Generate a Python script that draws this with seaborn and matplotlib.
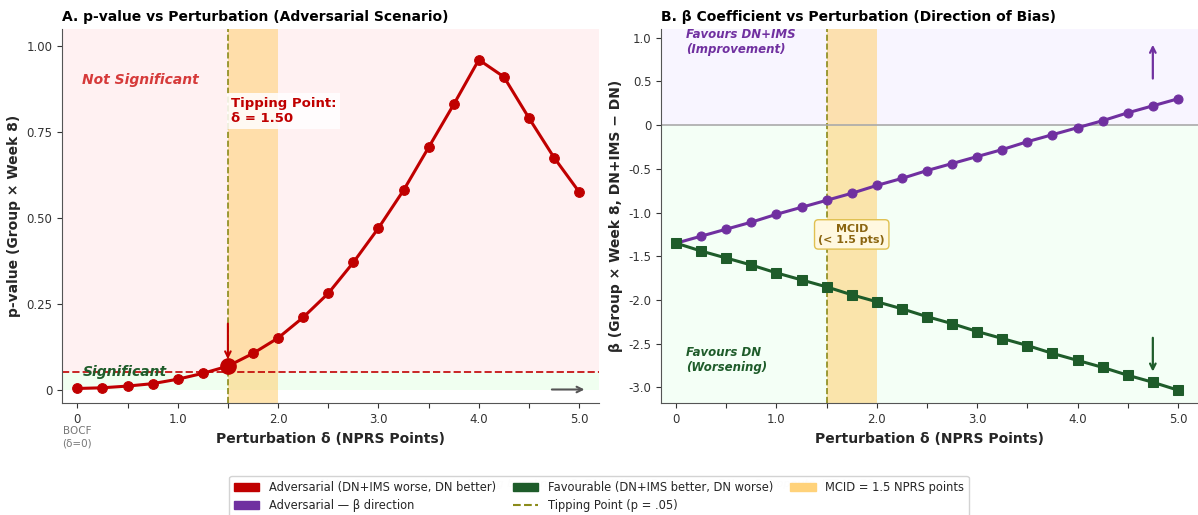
import numpy as np
import pandas as pd
import matplotlib
matplotlib.use("Agg")
import matplotlib.pyplot as plt
import seaborn as sns
from matplotlib.patches import Patch
from matplotlib.lines import Line2D

# =========================
# Data
# =========================
delta = [0.0, 0.25, 0.5, 0.75, 1.0, 1.25, 1.5, 1.75, 2.0, 2.25, 2.5,
         2.75, 3.0, 3.25, 3.5, 3.75, 4.0, 4.25, 4.5, 4.75, 5.0]
p_adversarial = [0.003, 0.005, 0.010, 0.017, 0.030, 0.047, 0.068, 0.105, 0.150, 0.210, 0.280,
                 0.370, 0.470, 0.580, 0.705, 0.830, 0.960, 0.910, 0.790, 0.675, 0.575]
beta_adversarial = [-1.35, -1.27, -1.19, -1.11, -1.02, -0.94, -0.86, -0.78, -0.69, -0.61, -0.52,
                    -0.44, -0.36, -0.28, -0.19, -0.11, -0.03, 0.05, 0.14, 0.22, 0.30]
beta_favourable = [-1.35, -1.44, -1.52, -1.60, -1.69, -1.77, -1.85, -1.94, -2.02, -2.10, -2.19,
                   -2.27, -2.36, -2.44, -2.52, -2.61, -2.69, -2.77, -2.86, -2.94, -3.03]

tipping_delta = 1.5
tipping_p = 0.068
mcid = 1.5
alpha_level = 0.05

x_ticks = [0, 0.5, 1.0, 1.5, 2.0, 2.5, 3.0, 3.5, 4.0, 4.5, 5.0]
x_labels = ["0", "", "1.0", "", "2.0", "", "3.0", "", "4.0", "", "5.0"]
p_ticks = [0, 0.25, 0.5, 0.75, 1.0]
p_labels = ["0", "0.25", "0.50", "0.75", "1.00"]
b_ticks = [1.0, 0.5, 0, -0.5, -1.0, -1.5, -2.0, -2.5, -3.0]
b_labels = ["1.0", "0.5", "0", "-0.5", "-1.0", "-1.5", "-2.0", "-2.5", "-3.0"]

RED = "#c00000"
GREEN = "#1e5c2a"
PURPLE = "#7030a0"
OLIVE = "#8b8b1a"
MCID_COL = "#ffd27a"

df = pd.DataFrame({"delta": delta, "p": p_adversarial,
                   "beta_adv": beta_adversarial, "beta_fav": beta_favourable})

sns.set_style("ticks")
plt.rcParams['font.family'] = ['DejaVu Sans']

fig, (ax1, ax2) = plt.subplots(1, 2, figsize=(11.98, 5.15), dpi=100)
fig.subplots_adjust(left=0.052, right=1.0, top=0.944, bottom=0.217, wspace=0.115)

# =========================
# Panel A
# =========================
ax1.axhspan(alpha_level, 1.05, color="#ffe8ea", alpha=0.6, lw=0, zorder=0)
ax1.axhspan(0, alpha_level, color="#e6ffe6", alpha=0.6, lw=0, zorder=0)
ax1.axvspan(mcid, 2.0, color=MCID_COL, alpha=0.6, lw=0, zorder=1)
ax1.axvline(tipping_delta, color=OLIVE, ls="--", lw=1.2, zorder=2)
ax1.axhline(alpha_level, color=RED, ls="--", lw=1.4, alpha=0.85, zorder=2)

sns.lineplot(data=df, x="delta", y="p", ax=ax1, color=RED, lw=2.2,
             marker="o", markersize=7, markeredgecolor=RED, zorder=4)
ax1.plot([tipping_delta], [tipping_p], "o", color=RED, markersize=11, zorder=5)
ax1.annotate("", xy=(tipping_delta, tipping_p + 0.012), xytext=(tipping_delta, 0.2),
             arrowprops=dict(arrowstyle="->", color=RED, lw=1.5), zorder=5)
ax1.text(1.53, 0.81, "Tipping Point:\nδ = 1.50", color=RED, fontsize=9.5, fontweight="bold",
         va="center", ha="left", zorder=6,
         bbox=dict(boxstyle="square,pad=0.3", fc="white", ec="none", alpha=0.85))
ax1.text(0.05, 0.90, "Not Significant", color="#d63a3a", fontsize=10,
         fontweight="bold", fontstyle="italic", va="center", zorder=6)
ax1.text(0.05, 0.052, "Significant", color=GREEN, fontsize=10,
         fontweight="bold", fontstyle="italic", va="center", zorder=6)
ax1.annotate("", xy=(5.08, 0.0), xytext=(4.7, 0.0),
             arrowprops=dict(arrowstyle="->", color="#555555", lw=1.5), zorder=5)
ax1.text(0.0, -0.14, "BOCF\n(δ=0)", color="#777777", fontsize=7.5, ha="center", va="center",
         linespacing=1.3)

ax1.set_xlim(-0.15, 5.2)
ax1.set_ylim(-0.04, 1.05)
ax1.set_xticks(x_ticks)
ax1.set_xticklabels(x_labels)
ax1.set_yticks(p_ticks)
ax1.set_yticklabels(p_labels)
ax1.set_xlabel("Perturbation δ (NPRS Points)", fontsize=10, fontweight="bold")
ax1.set_ylabel("p-value (Group × Week 8)", fontsize=10, fontweight="bold")
ax1.set_title("A. p-value vs Perturbation (Adversarial Scenario)", fontsize=10,
              fontweight="bold", loc="left", color="black")

# =========================
# Panel B
# =========================
ax2.axhspan(0, 1.1, color="#f3eeff", alpha=0.55, lw=0, zorder=0)
ax2.axhspan(-3.18, 0, color="#eefff0", alpha=0.6, lw=0, zorder=0)
ax2.axvspan(mcid, 2.0, color=MCID_COL, alpha=0.6, lw=0, zorder=1)
ax2.axvline(tipping_delta, color=OLIVE, ls="--", lw=1.2, zorder=2)
ax2.axhline(0, color="#aaaaaa", lw=1.2, zorder=2)

sns.lineplot(data=df, x="delta", y="beta_adv", ax=ax2, color=PURPLE, lw=2.2,
             marker="o", markersize=6.5, markeredgecolor=PURPLE, zorder=4)
sns.lineplot(data=df, x="delta", y="beta_fav", ax=ax2, color=GREEN, lw=2.2,
             marker="s", markersize=6.5, markeredgecolor=GREEN, zorder=4)

ax2.text(1.75, -1.25, "MCID\n(< 1.5 pts)", color="#8b6510", fontsize=8, fontweight="bold",
         ha="center", va="center", zorder=6,
         bbox=dict(boxstyle="round,pad=0.35", fc="#fff8e0", ec="#e0c050", lw=1))
ax2.text(0.1, 0.95, "Favours DN+IMS\n(Improvement)", color=PURPLE, fontsize=8.5,
         fontweight="bold", fontstyle="italic", va="center", zorder=6)
ax2.text(0.1, -2.68, "Favours DN\n(Worsening)", color=GREEN, fontsize=8.5,
         fontweight="bold", fontstyle="italic", va="center", zorder=6)
ax2.annotate("", xy=(4.75, 0.95), xytext=(4.75, 0.5),
             arrowprops=dict(arrowstyle="->", color=PURPLE, lw=1.6), zorder=5)
ax2.annotate("", xy=(4.75, -2.85), xytext=(4.75, -2.4),
             arrowprops=dict(arrowstyle="->", color=GREEN, lw=1.6), zorder=5)

ax2.set_xlim(-0.15, 5.2)
ax2.set_ylim(-3.18, 1.1)
ax2.set_xticks(x_ticks)
ax2.set_xticklabels(x_labels)
ax2.set_yticks(b_ticks)
ax2.set_yticklabels(b_labels)
ax2.set_xlabel("Perturbation δ (NPRS Points)", fontsize=10, fontweight="bold")
ax2.set_ylabel("β (Group × Week 8, DN+IMS − DN)", fontsize=10, fontweight="bold")
ax2.set_title("B. β Coefficient vs Perturbation (Direction of Bias)", fontsize=10,
              fontweight="bold", loc="left", color="black")

for ax in (ax1, ax2):
    sns.despine(ax=ax)
    ax.tick_params(labelsize=8.5, colors="#333333")
    for s in ("left", "bottom"):
        ax.spines[s].set_color("#555555")

# =========================
# Footnote + legend
# =========================
fig.text(0.5, 0.06, "Note: Dropouts re-imputed using baseline + δ. DN+IMS n=5 dropouts, "
         "DN n=8 dropouts. ITT N=78.", ha="center", va="center", fontsize=8,
         color="#ececec", fontstyle="italic")

handles = [
    Patch(color=RED, label="Adversarial (DN+IMS worse, DN better)"),
    Patch(color=PURPLE, label="Adversarial — β direction"),
    Patch(color=GREEN, label="Favourable (DN+IMS better, DN worse)"),
    Line2D([0], [0], color=OLIVE, ls="--", lw=1.5, label="Tipping Point (p = .05)"),
    Patch(color=MCID_COL, label="MCID = 1.5 NPRS points"),
]
fig.legend(handles=handles, loc="lower center", ncol=3, fontsize=8.3,
           bbox_to_anchor=(0.5, -0.015), frameon=True, framealpha=0.85,
           handlelength=2.2, columnspacing=1.5)

plt.savefig("out.png", dpi=100)
